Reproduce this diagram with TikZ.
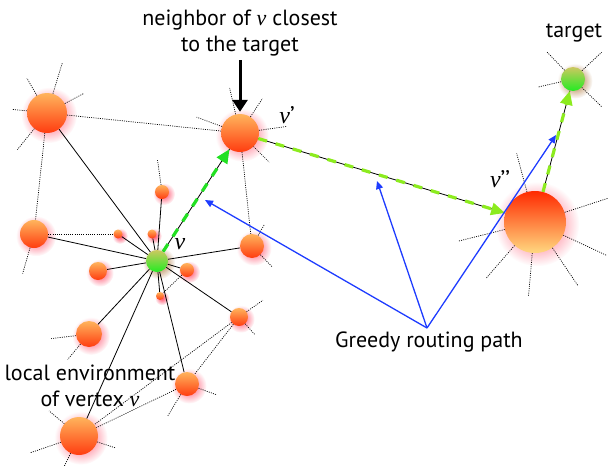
\documentclass[tikz,border=0pt]{standalone}
\usepackage{fontspec}
\setmainfont{PT Sans}
\newfontfamily\serifit{Liberation Serif}
\usetikzlibrary{arrows.meta,fadings}

\definecolor{balltop}{HTML}{FFB45C}
\definecolor{ballbot}{HTML}{FF3C10}
\definecolor{redtop}{HTML}{FF2A00}
\definecolor{redbot}{HTML}{FFD880}
\definecolor{greentop}{HTML}{CCC860}
\definecolor{greenbot}{HTML}{22EC22}
\definecolor{hopgreen}{HTML}{22E022}
\definecolor{hoplime}{HTML}{8CEB1E}
\definecolor{routeblue}{HTML}{1E3CFF}
\definecolor{glowred}{HTML}{FF4060}
\definecolor{glowbrown}{HTML}{A0601A}

\tikzfading[name=glowfade, inner color=transparent!5, outer color=transparent!100]

\tikzset{
  ball/.style={circle, inner sep=0pt, top color=balltop, bottom color=ballbot},
  bigred/.style={circle, inner sep=0pt, top color=redtop, bottom color=redbot},
  greenball/.style={circle, inner sep=0pt, top color=greentop, bottom color=greenbot},
  link/.style={draw=black, line width=0.8pt},
  weak/.style={draw=black, line width=0.7pt, dash pattern=on 1pt off 1.2pt},
  hop/.style={draw=#1, line width=3.2pt, dash pattern=on 9pt off 9pt,
    -{Triangle[length=14pt,width=12pt,fill=#1]},
    preaction={draw=black, line width=0.8pt, solid, -}},
  route/.style={draw=routeblue, line width=1.3pt, -{Triangle[length=8pt,width=7pt]}},
  pointer/.style={draw=black, line width=3pt, -{Triangle[length=12pt,width=15pt]}},
  lbl/.style={font=\fontsize{22}{26}\selectfont, inner sep=0pt},
  vname/.style={font=\fontsize{24}{26}\selectfont, inner sep=0pt}
}

% glow, then the ball itself
\newcommand{\ball}[5][glowred]{%
  \fill[#1, path fading=glowfade] (#3) ++(2pt,-2pt) circle (#4pt*1.3+2pt);
  \node[#5, minimum size=#4pt*2] (#2) at (#3) {};
}
\newcommand{\vx}{{\serifit\itshape v}}

\begin{document}
\begin{tikzpicture}[x=1pt, y=-1pt]
    \useasboundingbox (0,0) rectangle (608,466);

    % vertices
    \ball{a}{47,113}{20}{ball}
    \ball{vp}{240,133}{19}{ball}
    \ball[glowbrown]{v}{157,261}{11}{greenball}
    \ball{vpp}{535,222}{31}{bigred}
    \ball[glowbrown]{tgt}{573,79}{12}{greenball}
    \ball{b}{34,234}{14}{ball}
    \ball{s1}{118,234}{4.5}{ball}
    \ball{s2}{152,234}{4.5}{ball}
    \ball{t}{162,192}{7}{ball}
    \ball{c}{98,271}{9}{ball}
    \ball{d}{252,246}{12}{ball}
    \ball{e}{187,270}{7}{ball}
    \ball{f}{160,296}{4}{ball}
    \ball{g}{239,317}{9}{ball}
    \ball{h}{89,334}{13}{ball}
    \ball{i}{187,384}{12}{ball}
    \ball{j}{79,436}{19}{ball}

    % links of v
    \foreach \n in {a,b,s1,s2,t,c,d,e,f,g,h,i,j}
        \draw[link] (v) -- (\n);

    % other links
    \foreach \p/\q in {a/vp,a/b,b/s1,vp/d,e/f,g/i,g/j,i/j}
        \draw[weak] (\p) -- (\q);

    % loose ends
    \foreach \n/\a/\l in {a/73/33,a/120/20,a/174/15,a/231/27,a/28/22,
        vp/160/27,vp/103/27,vp/57/22,vp/8/28,vp/315/22,
        d/60/12,d/314/17,t/98/25,g/35/20,g/312/14,i/340/19,i/239/25,
        h/187/25,h/230/20,j/140/20,j/199/32,j/244/16,j/342/19,b/254/27,
        vpp/105/40,vpp/18/45,vpp/335/48,vpp/304/45,vpp/265/44,vpp/229/43,vpp/194/48,
        tgt/134/25,tgt/43/27,tgt/193/24,tgt/316/28}
        \draw[weak] (\n.\a) -- +(\a:\l pt);

    % greedy hops
    \draw[hop=hopgreen] (v) -- (vp);
    \draw[hop=hoplime] (vp) -- (vpp);
    \draw[hop=hoplime] (vpp) -- (tgt);

    % labels
    \node[lbl, align=center] (nbr) at (240,33) {neighbor of \vx\ closest\\to the target};
    \node[lbl] (tlab) at (574,33) {target};
    \node[lbl] (grp) at (429,342) {Greedy routing path};
    \node[lbl, align=center] (env) at (90,386) {local environment\\of vertex \vx};
    \node[vname] (vl) at (180,244) {\vx};
    \node[vname] (vpl) at (287,115) {\vx’};
    \node[vname] (vppl) at (500,179) {\vx’’};

    \draw[pointer, shorten <=4pt, shorten >=2pt] (nbr) -- (vp);

    % routing path
    \coordinate (hub) at (427,328);
    \coordinate (r1) at (205,200);
    \coordinate (r2) at (377,181);
    \coordinate (r3) at (556,135);
    \draw[route] (hub) -- (r1);
    \draw[route] (hub) -- (r2);
    \draw[route] (hub) -- (r3);
\end{tikzpicture}
\end{document}
